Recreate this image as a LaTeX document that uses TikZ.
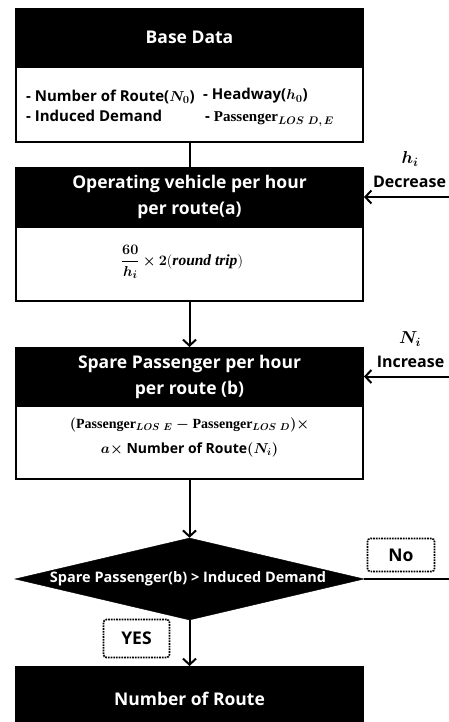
\documentclass[tikz,border=0pt]{standalone}
\usepackage{amsmath}
\usepackage{bm}
\usepackage{fontspec}
\setmainfont{Open Sans}
\newfontfamily\serifface{Liberation Serif}
\usetikzlibrary{arrows.meta,shapes.geometric}

\begin{document}
\begin{tikzpicture}[x=1pt,y=-1pt,
  head/.style={draw=black, fill=black, text=white, line width=2pt,
    minimum width=347pt, inner sep=0pt, align=center,
    font=\bfseries\fontsize{17.5}{26}\selectfont},
  body/.style={draw=black, fill=white, line width=2pt,
    minimum width=347pt, inner sep=0pt},
  txt/.style={inner sep=0pt, font=\bfseries\fontsize{15}{19}\selectfont},
  flow/.style={line width=2pt, -{Straight Barb[length=6pt,width=13pt,line width=2pt]}},
  plain/.style={line width=2pt},
  tag/.style={draw=black, densely dotted, line width=1.7pt, rounded corners=3pt,
    minimum width=66pt, inner sep=0pt, font=\bfseries\fontsize{17.5}{20}\selectfont},
  side/.style={inner sep=0pt, font=\bfseries\fontsize{16}{19}\selectfont}
]
\useasboundingbox[fill=white] (0,0) rectangle (448,722);

% Base data block
\node[head, minimum height=57pt] (basehead) at (189.5,37.5) {Base Data};
\node[body, minimum height=75pt] (basebody) at (189.5,104.5) {};
\node[txt, anchor=west] (b1) at (26,97) {- Number of Route($\bm{N_0}$)};
\node[txt, anchor=west] (b2) at (26,116) {- Induced Demand};
\node[txt, anchor=west] (b3) at (203,96) {- Headway($\bm{h_0}$)};
\node[txt, anchor=west] (b4) at (205,119) {- {\serifface\bfseries Passenger}$_{\bm{LOS\ D,\,E}}$};

% Operating vehicles block
\node[head, minimum height=58pt] (ophead) at (189.5,197) {Operating vehicle per hour\\per route(a)};
\node[body, minimum height=74pt] (opbody) at (189.5,264) {};
\node[txt, font=\fontsize{15.5}{18}\selectfont] (opf) at (182,262)
  {$\boldsymbol{\dfrac{60}{h_i}\times 2}(\text{\serifface\bfseries\itshape round trip})$};

% Spare passenger block
\node[head, minimum height=57pt] (sparehead) at (189.5,376.5) {Spare Passenger per hour\\per route (b)};
\node[body, minimum height=73pt] (sparebody) at (189.5,442.5) {};
\node[txt, align=center, font=\fontsize{14}{25}\selectfont] (spf) at (189.5,437.5)
  {$\bm{(}${\serifface\bfseries Passenger}$_{\bm{LOS\ E}}$ $\bm{-}$ {\serifface\bfseries Passenger}$_{\bm{LOS\ D}}\bm{)\times}$\\
   $\bm{a\times}$ \textbf{Number of Route}$\bm{(N_i)}$};

% Decision
\node[diamond, fill=black, draw=black, minimum width=349pt, minimum height=82pt,
  inner sep=0pt] (dec) at (189.5,579) {};
\node[txt, text=white, font=\bfseries\fontsize{14.5}{18}\selectfont] (dect) at (188,579)
  {Spare Passenger(b) > Induced Demand};

% Result
\node[head, minimum height=63pt] (res) at (189.5,698.5) {Number of Route};

% Answer tags
\node[tag, minimum height=38pt] (yes) at (136.5,638.5) {YES};
\node[tag, minimum height=33pt, minimum width=67pt] (no) at (401,555) {No};

% Connectors
\draw[plain] (basebody.south) -- (ophead.north);
\draw[flow] (opbody.south) -- (sparehead.north);
\draw[flow] (sparebody.south) -- (dec.north);
\draw[flow] (dec.south) -- (res.north);

% Feedback from the right
\coordinate (hin) at (452,197);
\coordinate (nin) at (452,376.5);
\coordinate (nout) at (452,579);
\draw[flow] (hin) -- (ophead.east);
\draw[flow] (nin) -- (sparehead.east);
\draw[plain] (dec.east) -- (nout);

\node[side, font=\fontsize{18}{20}\selectfont] (hl) at (410,159) {$\bm{h_i}$};
\node[side] (dl) at (409.5,182) {Decrease};
\node[side, font=\fontsize{18}{20}\selectfont] (nl) at (410,339) {$\bm{N_i}$};
\node[side] (il) at (410.5,362) {Increase};
\end{tikzpicture}
\end{document}
